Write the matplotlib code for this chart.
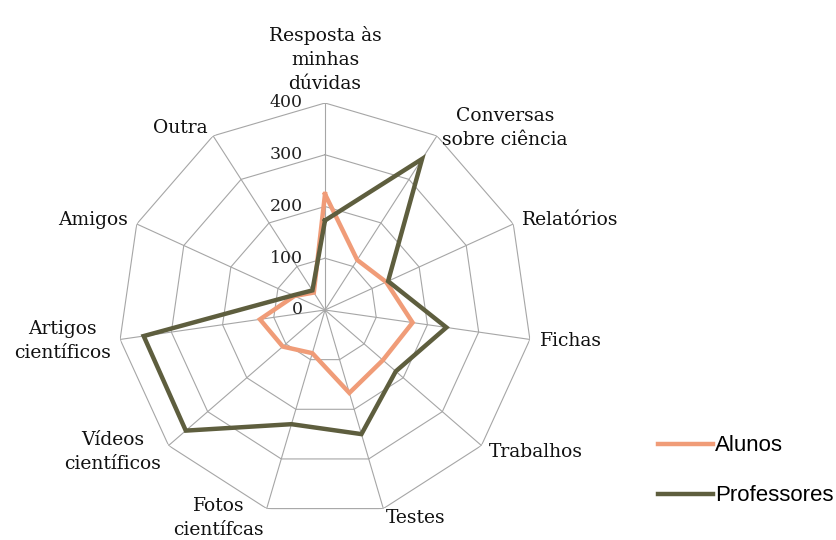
import numpy as np
import matplotlib
matplotlib.use("Agg")
from matplotlib import pyplot as plt
from matplotlib.lines import Line2D

# categorias (sentido horário a partir do topo)
categorias = ["Resposta às\nminhas\ndúvidas", "Conversas\nsobre ciência", "Relatórios",
              "Fichas", "Trabalhos", "Testes", "Fotos\ncientífcas", "Vídeos\ncientíficos",
              "Artigos\ncientíficos", "Amigos", "Outra"]
alunos = [224, 115, 130, 171, 148, 167, 87, 108, 127, 65, 40]
professores = [173, 347, 134, 237, 181, 250, 230, 356, 354, 68, 45]
niveis = [0, 100, 200, 300, 400]

cor_alunos = "#F09C78"
cor_prof = "#5E5E3E"
cor_grelha = "#A6A6A6"

n = len(categorias)
angulos = np.linspace(0, 2 * np.pi, n, endpoint=False)
ang_fechado = np.append(angulos, angulos[0])

fig = plt.figure(figsize=(8.37, 5.4), dpi=100)
ax = fig.add_axes([0.141, 0.0426, 0.4946, 0.7667], projection="polar")
ax.set_theta_zero_location("N")
ax.set_theta_direction(-1)
ax.set_ylim(0, 400)
ax.grid(False)
ax.spines["polar"].set_visible(False)
ax.set_xticks([])
ax.set_yticks([])

# grelha poligonal
for nv in niveis[1:]:
    ax.plot(ang_fechado, [nv] * (n + 1), color=cor_grelha, lw=0.8, zorder=1)
for a in angulos:
    ax.plot([a, a], [0, niveis[-1]], color=cor_grelha, lw=0.8, zorder=1)

# séries
ax.plot(ang_fechado, alunos + alunos[:1], color=cor_alunos, lw=3.2, zorder=3,
        solid_joinstyle="miter")
ax.plot(ang_fechado, professores + professores[:1], color=cor_prof, lw=3.2, zorder=4,
        solid_joinstyle="miter")

# rótulos do eixo radial
for nv in niveis:
    ax.annotate(str(nv), xy=(0, nv), xytext=(-16, 0), textcoords="offset points",
                ha="right", va="center", fontsize=12.5, family="DejaVu Serif",
                color="#222222")

# rótulos das categorias
for a, cat in zip(angulos, categorias):
    s, c = np.sin(a), np.cos(a)
    if s > 0.1:
        ha = "left"
    elif s < -0.1:
        ha = "right"
    else:
        ha = "center"
    va = "bottom" if c > 0.95 else "center"
    off = 7
    ax.annotate(cat, xy=(a, niveis[-1]), xytext=(off * s, off * c),
                textcoords="offset points", ha=ha, va=va, multialignment="center",
                linespacing=1.45, fontsize=13.5, family="DejaVu Serif",
                color="#111111", annotation_clip=False)

handles = [Line2D([], [], color=cor_alunos, lw=3.2),
           Line2D([], [], color=cor_prof, lw=3.2)]
fig.legend(handles, ["Alunos", "Professores"], loc="upper left",
           bbox_to_anchor=(0.775, 0.21), frameon=False, handlelength=2.5,
           handletextpad=0.1, labelspacing=1.3, borderaxespad=0,
           prop={"family": "Liberation Sans", "size": 16})

fig.savefig("out.png", dpi=100)
